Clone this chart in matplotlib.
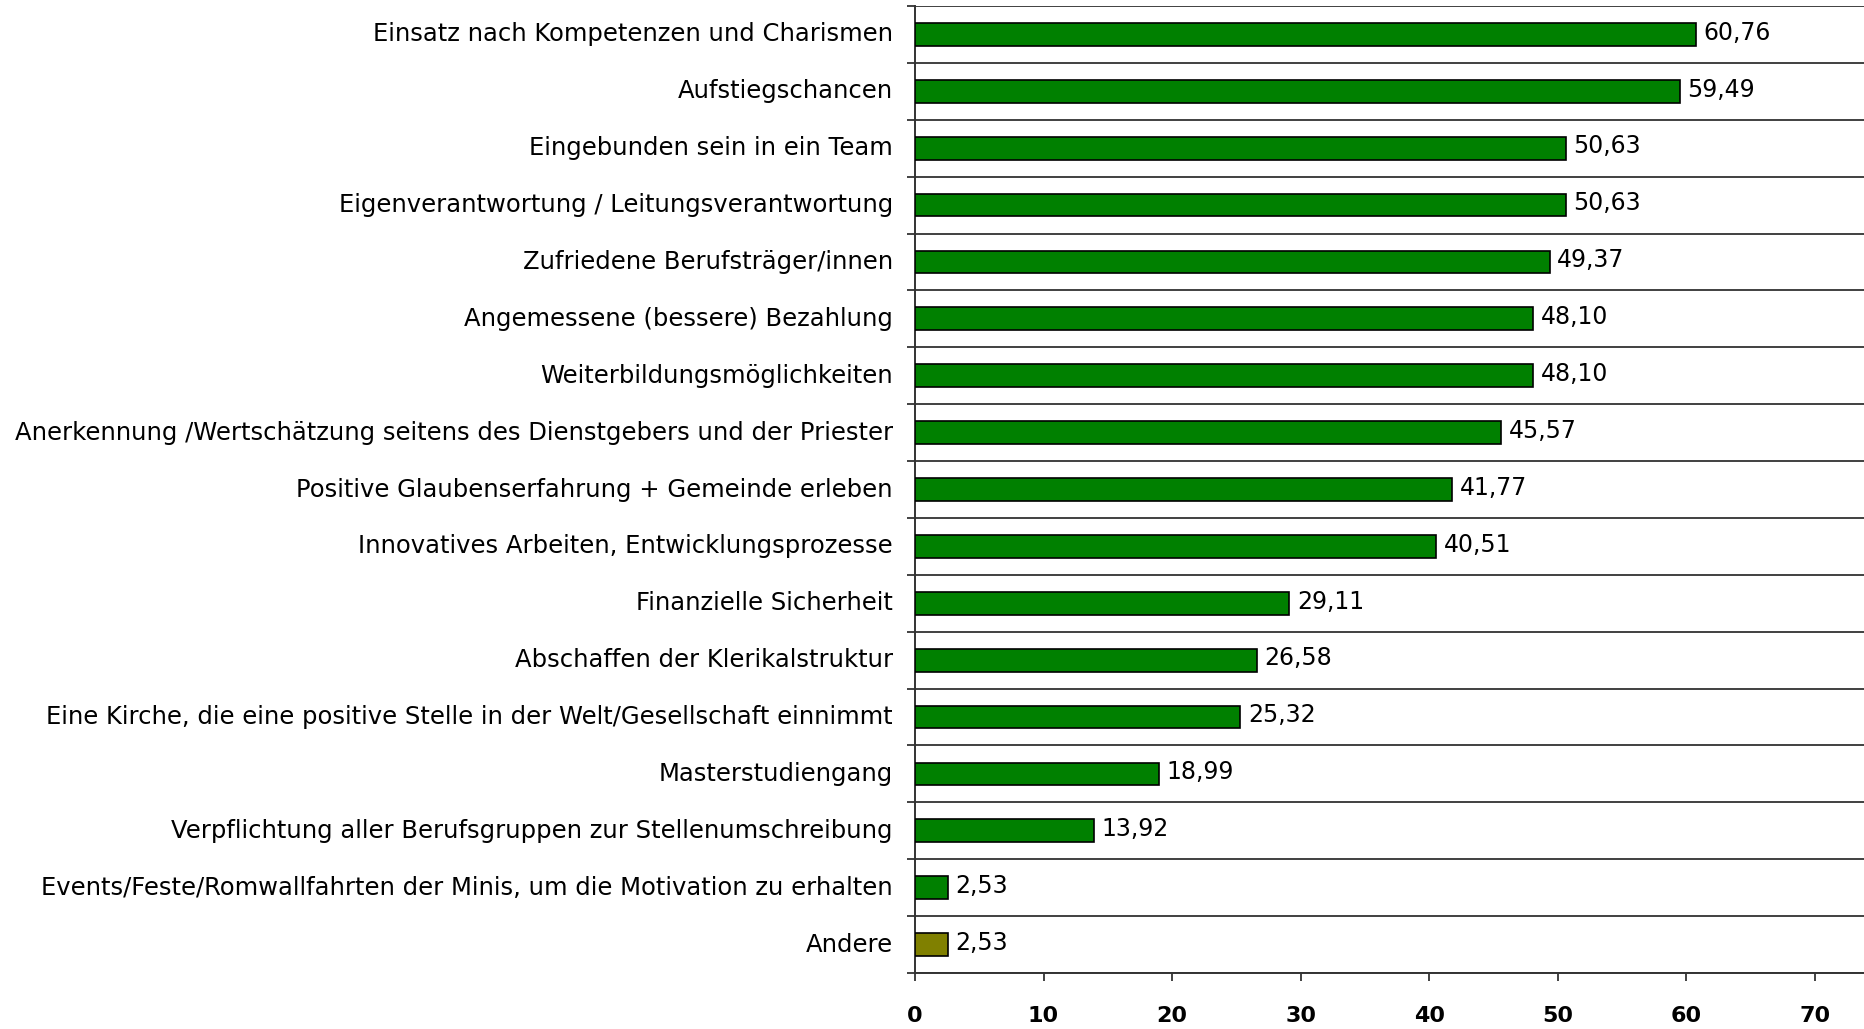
import matplotlib
matplotlib.use("Agg")
import matplotlib.pyplot as plt
import numpy as np

categories = [
    "Einsatz nach Kompetenzen und Charismen",
    "Aufstiegschancen",
    "Eingebunden sein in ein Team",
    "Eigenverantwortung / Leitungsverantwortung",
    "Zufriedene Berufsträger/innen",
    "Angemessene (bessere) Bezahlung",
    "Weiterbildungsmöglichkeiten",
    "Anerkennung /Wertschätzung seitens des Dienstgebers und der Priester",
    "Positive Glaubenserfahrung + Gemeinde erleben",
    "Innovatives Arbeiten, Entwicklungsprozesse",
    "Finanzielle Sicherheit",
    "Abschaffen der Klerikalstruktur",
    "Eine Kirche, die eine positive Stelle in der Welt/Gesellschaft einnimmt",
    "Masterstudiengang",
    "Verpflichtung aller Berufsgruppen zur Stellenumschreibung",
    "Events/Feste/Romwallfahrten der Minis, um die Motivation zu erhalten",
    "Andere",
]
values = [60.76, 59.49, 50.63, 50.63, 49.37, 48.10, 48.10, 45.57, 41.77,
          40.51, 29.11, 26.58, 25.32, 18.99, 13.92, 2.53, 2.53]
colors = ["#008000"] * 16 + ["#808000"]
xticks = [0, 10, 20, 30, 40, 50, 60, 70]

W, H = 1865, 1029
fig = plt.figure(figsize=(W / 100, H / 100), dpi=100)
ax = fig.add_axes([915 / W, 1 - 973 / H, 1 - 915 / W, (973 - 6) / H])

n = len(categories)
y = np.arange(n)
ax.barh(y, values, height=0.4, color=colors, edgecolor="black", linewidth=1.2, zorder=3)
for yi, v in zip(y, values):
    ax.text(v + 0.6, yi - 0.03, f"{v:.2f}".replace(".", ","), va="center", ha="left",
            fontsize=17, color="black")

ax.set_ylim(n - 0.5, -0.5)
ax.set_xlim(0, 73.9)
ax.set_yticks(y)
ax.set_yticklabels(categories, fontsize=17.5, va="center")
for lbl in ax.get_yticklabels():
    lbl.set_y(lbl.get_position()[1])
ax.tick_params(axis="y", which="major", length=0, pad=16)
ax.set_yticks(np.arange(n + 1) - 0.5, minor=True)
ax.tick_params(axis="y", which="minor", length=6, width=1.3, color="#333333")
ax.yaxis.grid(True, which="minor", color="#404040", linewidth=1.4, zorder=1)
ax.set_xticks(xticks)
ax.set_xticklabels([str(t) for t in xticks], fontsize=16, fontweight="bold")
ax.tick_params(axis="x", length=6, width=1.3, pad=18, color="#333333")

for s in ["top", "right"]:
    ax.spines[s].set_visible(False)
ax.spines["left"].set_linewidth(1.4)
ax.spines["left"].set_color("#333333")
ax.spines["bottom"].set_linewidth(1.4)
ax.spines["bottom"].set_color("#333333")

fig.savefig("out.png", dpi=100)
